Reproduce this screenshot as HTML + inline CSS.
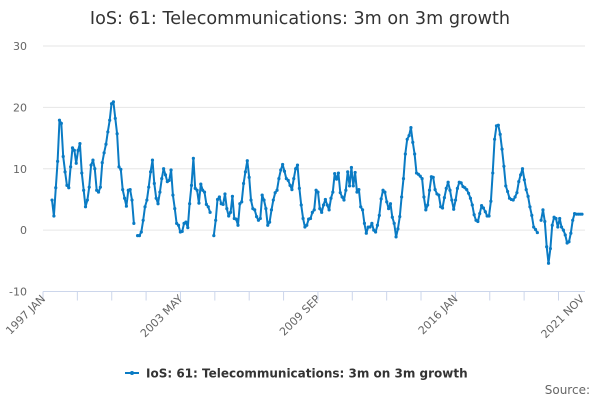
<!DOCTYPE html>
<html><head><meta charset="utf-8"><style>
body{margin:0;background:#fff;font-family:"Liberation Sans","DejaVu Sans",sans-serif;}
svg text{font-family:"DejaVu Sans","Liberation Sans",sans-serif;}
</style></head><body>
<svg id="chart" width="600" height="400" xmlns="http://www.w3.org/2000/svg">
<text x="300" y="24" text-anchor="middle" font-size="17.6" fill="#333">IoS: 61: Telecommunications: 3m on 3m growth</text>
<g id="grid"></g><g id="xaxis"></g><g id="series"></g>
<g>
<line x1="125" y1="373" x2="139" y2="373" stroke="#0a7bc4" stroke-width="2"/>
<circle cx="132" cy="373" r="2" fill="#0a7bc4"/>
<text x="146" y="377.5" font-size="12" font-weight="bold" fill="#333">IoS: 61: Telecommunications: 3m on 3m growth</text>
</g>
<text x="590" y="394" text-anchor="end" font-size="12" fill="#666">Source:</text>
</svg>
<script>
const values=[4.9,2.3,6.9,11.2,17.9,17.4,12,9.5,7.3,6.9,10.3,13.4,13,10.9,13,14.1,9.3,6.5,3.8,4.9,7,10.6,11.4,10,6.5,6.2,7,11,12.6,14,16,17.9,20.6,20.9,18.2,15.7,10.3,9.9,6.6,5.2,3.9,6.5,6.6,4.9,1.1,null,-0.9,-0.9,-0.3,1.6,3.8,4.9,7,9.5,11.4,7.6,5.2,4.3,6.2,8.4,10,9,7.9,8.1,9.8,5.7,
3.5,1.1,0.8,-0.3,-0.2,1.1,1.3,0.4,4.3,7.3,11.7,6.8,6.5,4.4,7.5,6.5,6.2,4.2,3.8,2.9,null,-0.9,1.6,5,5.4,4.3,4.2,5.9,3.5,2.3,2.9,5.5,1.9,1.8,0.8,4.3,4.6,7.6,9.5,11.3,8.6,4.9,3.5,3.3,2.2,1.6,1.9,5.7,4.9,3.5,0.8,1.3,3.3,4.9,6.1,6.5,8.4,9.8,10.7,9.6,8.4,8.1,7.3,6.6,8.4,10,10.6,6.8,4.1,1.9,0.5,
0.8,1.8,1.9,2.9,3.3,6.5,6.2,3.5,2.9,4.1,5,4.1,3.3,5.2,6.2,9.2,8.3,9.3,6.1,5.4,4.9,6.5,9.5,7.2,10.2,7.2,9.4,6.2,6.6,3.8,3.3,1.1,-0.5,0.5,0.5,1.1,0,-0.3,0.8,2.4,5.1,6.5,6.2,4.6,3.5,4.3,2.1,1.1,-1.1,0.2,2.2,5.4,8.4,12.4,14.8,15.4,16.7,14.3,12.4,9.3,9.1,8.8,8.4,5.4,3.3,4.1,6.5,8.7,8.6,6.6,5.9,5.7,3.8,
3.6,5.3,6.8,7.8,6.5,4.9,3.4,4.9,6.8,7.8,7.7,7.1,6.9,6.6,6,5.2,4.1,2.5,1.6,1.4,2.7,4,3.6,3,2.3,2.3,4.7,9.3,14.8,17,17.1,15.6,13.2,10.4,7.2,6.3,5.2,5,4.9,5.4,6.1,7.9,9,10,8.2,6.6,5.5,3.8,2.4,0.5,0.1,-0.4,null,1.6,3.3,1.4,-2.7,-5.4,-3,0.8,2.1,1.9,0.5,1.9,0.5,0,-0.8,-2.1,-1.9,-0.5,1.6,2.7,2.6,2.6,2.6,2.6];
const yTicks=[30,20,10,0,-10];
const xLabels=["1997 JAN","2003 MAY","2009 SEP","2016 JAN","2021 NOV"];
const xLabelMonths=[0,76,152,228,298];
const startMonth=5, endMonth=298;
const NS="http://www.w3.org/2000/svg";
const X0=43,X1=582,Y30=46,Yn10=291.5;
function xm(m){return X0+(X1-X0)*m/298;}
function y(v){return Y30+(30-v)*(Yn10-Y30)/40;}
function xi(i){return xm(startMonth+(endMonth-startMonth)*i/(values.length-1));}
function mk(t,a,p){const e=document.createElementNS(NS,t);for(const k in a)e.setAttribute(k,a[k]);p.appendChild(e);return e;}
const grid=document.getElementById('grid');
yTicks.forEach(v=>{
 if(v!==-10){const l=mk('line',{x1:X0,x2:585,y1:y(v),y2:y(v),stroke:'#e6e6e6','stroke-width':1},grid);
 
 }
 const t=mk('text',{x:27,y:y(v)+4,'text-anchor':'end','font-size':11,fill:'#666'},grid);
 t.textContent=v;
 
 
});
const xa=document.getElementById('xaxis');
const al=mk('line',{x1:X0,x2:585,y1:Yn10,y2:Yn10,stroke:'#ccd6eb','stroke-width':1},xa);


for(let m=0;m<=298;m+=19){
 const tk=mk('line',{x1:xm(m),x2:xm(m),y1:Yn10,y2:Yn10+9,stroke:'#ccd6eb'},xa);
 
 
}
xLabels.forEach((s,i)=>{
 const x=xm(xLabelMonths[i]);
 const t=mk('text',{x:x+3,y:Yn10+8,'text-anchor':'end','font-size':11,fill:'#666',transform:`rotate(-45 ${x+3} ${Yn10+8})`},xa);
 t.textContent=s;
 
 
});
const sg=document.getElementById('series');
let d='',pen=false;
values.forEach((v,i)=>{if(v===null){pen=false;return;}d+=(pen?'L':'M')+xi(i).toFixed(1)+' '+y(v).toFixed(1);pen=true;});
const p=mk('path',{d:d,fill:'none',stroke:'#0a7bc4','stroke-width':2,'stroke-linejoin':'round'},sg);


values.forEach((v,i)=>{if(v===null)return;
 const c=mk('circle',{cx:xi(i),cy:y(v),r:1.6,fill:'#0a7bc4'},sg);
 
 
});
</script>
</body></html>
